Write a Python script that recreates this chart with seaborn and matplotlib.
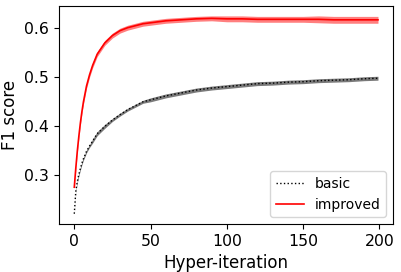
import matplotlib.pyplot as plt
import pandas as pd
import seaborn as sns

iters = [0, 1, 2, 3, 4, 5, 6, 8, 10, 12, 15, 20, 25, 30, 35, 40, 45, 50, 60, 70, 80, 90,
         100, 110, 120, 130, 140, 150, 160, 170, 180, 190, 199]

# mean F1 of the basic run (black, dotted)
basic_mean = [0.222, 0.268, 0.288, 0.302, 0.314, 0.325, 0.334, 0.349, 0.360, 0.370, 0.385,
              0.400, 0.413, 0.424, 0.434, 0.442, 0.450, 0.454, 0.462, 0.468, 0.474, 0.478,
              0.481, 0.484, 0.487, 0.488, 0.490, 0.491, 0.493, 0.494, 0.495, 0.497, 0.498]
basic_err = [0.001, 0.002, 0.003, 0.003, 0.003, 0.003, 0.003, 0.003, 0.003, 0.004, 0.004,
             0.004, 0.003, 0.003, 0.003, 0.003, 0.003, 0.004, 0.004, 0.004, 0.004, 0.004,
             0.004, 0.004, 0.004, 0.004, 0.004, 0.004, 0.004, 0.004, 0.004, 0.004, 0.004]

# mean F1 of the improved run (red, solid)
improved_mean = [0.276, 0.315, 0.350, 0.380, 0.407, 0.430, 0.450, 0.482, 0.505, 0.524,
                 0.547, 0.570, 0.585, 0.595, 0.601, 0.605, 0.609, 0.611, 0.615, 0.617,
                 0.619, 0.620, 0.619, 0.619, 0.618, 0.618, 0.618, 0.618, 0.618, 0.617,
                 0.617, 0.617, 0.617]
improved_err = [0.002, 0.003, 0.004, 0.004, 0.004, 0.004, 0.005, 0.005, 0.005, 0.005,
                0.005, 0.005, 0.005, 0.005, 0.005, 0.005, 0.005, 0.005, 0.005, 0.005,
                0.005, 0.005, 0.006, 0.006, 0.006, 0.006, 0.006, 0.006, 0.007, 0.007,
                0.007, 0.007, 0.007]

df = pd.DataFrame({"iter": iters,
                   "basic": basic_mean, "basic_err": basic_err,
                   "improved": improved_mean, "improved_err": improved_err})

fig, ax = plt.subplots(figsize=(4.02, 2.72), dpi=100)
fig.subplots_adjust(left=0.147, right=0.978, top=0.978, bottom=0.176)

ax.fill_between(df["iter"], df["basic"] - df["basic_err"], df["basic"] + df["basic_err"],
                color="0.35", alpha=0.8, lw=0)
sns.lineplot(x="iter", y="basic", data=df, ax=ax, color="black", lw=1,
             linestyle=":", label="basic")

ax.fill_between(df["iter"], df["improved"] - df["improved_err"],
                df["improved"] + df["improved_err"], color="red", alpha=0.5, lw=0)
sns.lineplot(x="iter", y="improved", data=df, ax=ax, color="red", lw=1.2,
             label="improved")

ax.set_xlabel("Hyper-iteration", fontsize=12)
ax.set_ylabel("F1 score", fontsize=12)
ax.tick_params(labelsize=11.3)
ax.set_xticks([0, 50, 100, 150, 200])
ax.set_yticks([0.3, 0.4, 0.5, 0.6])
ax.legend(loc="lower right", fontsize=10)

plt.savefig("out.png", dpi=100)
